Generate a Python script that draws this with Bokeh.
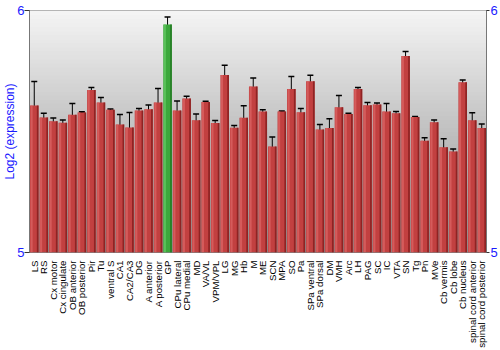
from math import pi
from bokeh.plotting import figure
from bokeh.models import (FactorRange, Range1d, FixedTicker, LinearAxis, Whisker,
                          ColumnDataSource, BoxAnnotation, TeeHead)
from bokeh.transform import dodge
from bokeh.embed import file_html
from bokeh.resources import INLINE

regions = ["LS", "RS", "Cx motor", "Cx cingulate", "OB anterior", "OB posterior", "Pir", "Tu",
           "ventral S", "CA1", "CA2/CA3", "DG", "A anterior", "A posterior", "GP", "CPu lateral",
           "CPu medial", "MD", "VA/VL", "VPM/VPL", "LG", "MG", "Hb", "M", "ME", "SCN", "MPA",
           "SO", "Pa", "SPa ventral", "SPa dorsal", "DM", "VMH", "Arc", "LH", "PAG", "SC", "IC",
           "VTA", "SN", "Tg", "Pn", "MVe", "Cb vermis", "Cb lobe", "Cb nucleus",
           "spinal cord anterior", "spinal cord posterior"]

expression = [5.607, 5.558, 5.542, 5.536, 5.569, 5.579, 5.672, 5.620,
              5.590, 5.529, 5.517, 5.587, 5.592, 5.620, 5.942, 5.587,
              5.636, 5.546, 5.622, 5.535, 5.733, 5.515, 5.557, 5.686,
              5.583, 5.438, 5.583, 5.676, 5.580, 5.708, 5.508, 5.514,
              5.600, 5.572, 5.676, 5.608, 5.612, 5.583, 5.575, 5.812,
              5.560, 5.462, 5.538, 5.435, 5.417, 5.703, 5.546, 5.514]

error = [0.100, 0.017, 0.014, 0.012, 0.047, 0.003, 0.010, 0.021,
         0.003, 0.041, 0.061, 0.008, 0.018, 0.058, 0.031, 0.039,
         0.010, 0.026, 0.003, 0.010, 0.041, 0.010, 0.049, 0.035,
         0.007, 0.039, 0.002, 0.051, 0.015, 0.024, 0.021, 0.039,
         0.049, 0.003, 0.006, 0.012, 0.006, 0.033, 0.008, 0.019,
         0.002, 0.012, 0.010, 0.035, 0.011, 0.010, 0.031, 0.017]

highlight = "GP"
y_ticks = [5, 6]

main_col = ["#3ca83c" if r == highlight else "#c24040" for r in regions]
light_col = ["#62c862" if r == highlight else "#d96262" for r in regions]
dark_col = ["#237a23" if r == highlight else "#8a2020" for r in regions]

source = ColumnDataSource(dict(
    region=regions, value=expression,
    lower=[v - e for v, e in zip(expression, error)],
    upper=[v + e for v, e in zip(expression, error)],
    main=main_col, light=light_col, dark=dark_col,
))

p = figure(x_range=FactorRange(*regions, range_padding=0), y_range=Range1d(5, 6),
           width=500, height=350, output_backend="svg", toolbar_location=None,
           min_border_left=20, min_border_right=12, min_border_top=10, min_border_bottom=90)

# gradient background
n = 60
for i in range(n):
    t = i / (n - 1)
    g = int(round(0x8c + (0xf4 - 0x8c) * t))
    col = "#%02x%02x%02x" % (g, g, g)
    p.add_layout(BoxAnnotation(bottom=5 + i / n - 0.002, top=5 + (i + 1) / n + 0.002,
                               fill_color=col, fill_alpha=1, line_color=None, level="underlay"))

p.vbar(x="region", top="value", bottom=5, width=0.9, source=source,
       fill_color="main", line_color=None)
p.vbar(x=dodge("region", -0.28, range=p.x_range), top="value", bottom=5, width=0.22,
       source=source, fill_color="light", line_color=None, fill_alpha=0.8)
p.vbar(x=dodge("region", 0.36, range=p.x_range), top="value", bottom=5, width=0.18,
       source=source, fill_color="dark", line_color=None, fill_alpha=0.9)

w = Whisker(base="region", lower="lower", upper="upper", source=source,
            line_color="black", line_width=1,
            upper_head=TeeHead(size=6, line_color="black", line_width=1.5),
            lower_head=TeeHead(size=6, line_color="black", line_width=1.5))
p.add_layout(w)

p.grid.visible = False
p.outline_line_color = "#777777"
p.background_fill_color = "white"

ya = p.yaxis[0]
ya.ticker = FixedTicker(ticks=y_ticks)
ya.axis_label = "Log2 (expression)"
ya.axis_label_text_color = "#1a1aff"
ya.axis_label_text_font = "Liberation Sans"
ya.axis_label_text_font_style = "normal"
ya.axis_label_text_font_size = "12px"
ya.axis_label_standoff = -3
ya.major_label_text_color = "#1a1aff"
ya.major_label_text_font = "Liberation Sans"
ya.major_label_text_font_size = "13px"
ya.major_label_standoff = 0
ya.major_tick_out = 5
ya.major_tick_in = 0
ya.minor_tick_line_color = None
ya.axis_line_color = "#777777"
ya.major_tick_line_color = "#333333"

ra = LinearAxis(ticker=FixedTicker(ticks=y_ticks))
ra.major_label_text_color = "#1a1aff"
ra.major_label_text_font = "Liberation Sans"
ra.major_label_text_font_size = "13px"
ra.major_label_standoff = 1
ra.major_tick_out = 3
ra.major_tick_in = 0
ra.minor_tick_line_color = None
ra.axis_line_color = "#777777"
ra.major_tick_line_color = "#333333"
p.add_layout(ra, "right")

xa = p.xaxis[0]
xa.major_label_orientation = pi / 2
xa.major_label_text_font = "Liberation Sans"
xa.major_label_text_font_size = "9.7px"
xa.major_label_text_color = "black"
xa.major_label_standoff = 2
xa.major_tick_line_color = None
xa.axis_line_color = None

open("out.html", "w").write(file_html(p, INLINE))
